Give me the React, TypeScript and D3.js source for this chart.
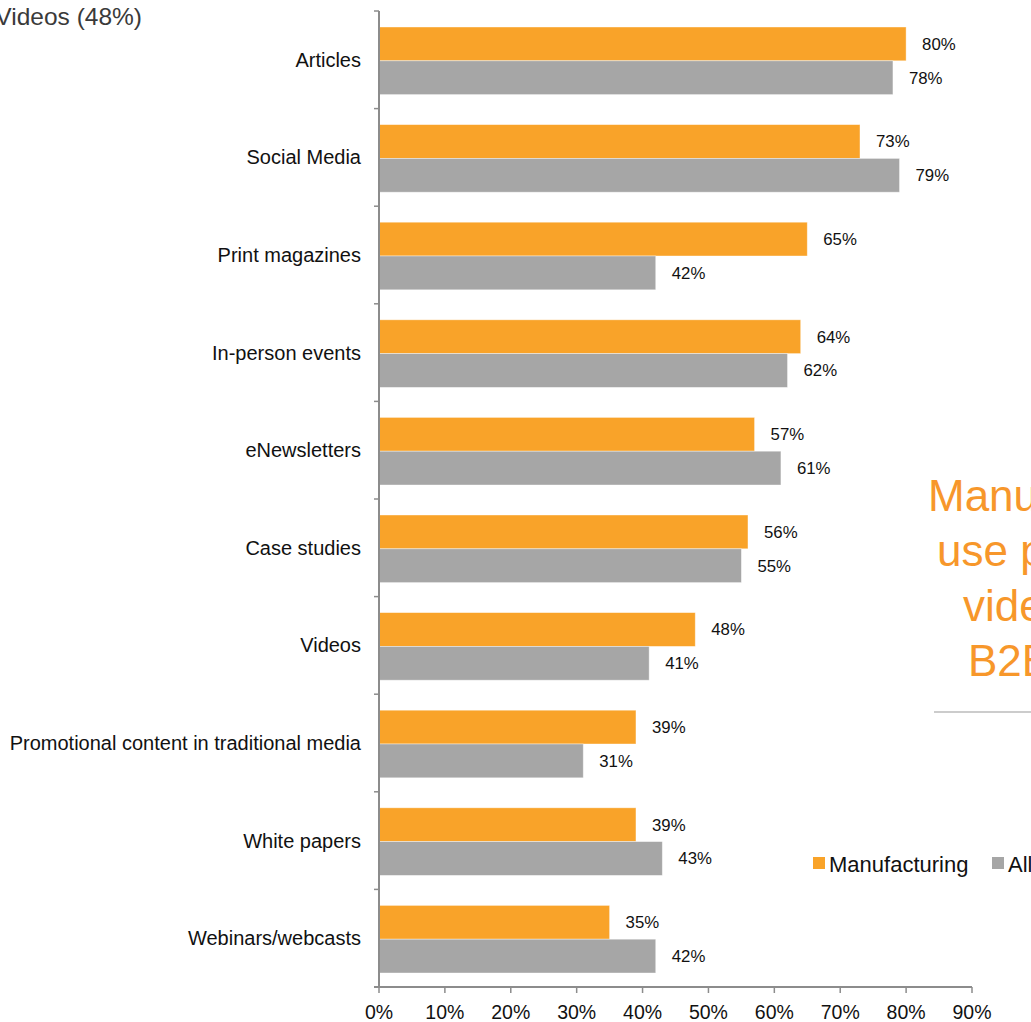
import * as d3 from "d3";

const categories = [
  "Articles",
  "Social Media",
  "Print magazines",
  "In-person events",
  "eNewsletters",
  "Case studies",
  "Videos",
  "Promotional content in traditional media",
  "White papers",
  "Webinars/webcasts",
];
const manufacturing = [80, 73, 65, 64, 57, 56, 48, 39, 39, 35];
const allB2B = [78, 79, 42, 62, 61, 55, 41, 31, 43, 42];
const xTicks = [0, 10, 20, 30, 40, 50, 60, 70, 80, 90];
const series = [
  { key: "Manufacturing", values: manufacturing, color: "#F9A329" },
  { key: "All", values: allB2B, color: "#A6A6A6" },
];
const calloutLines = ["Manufacturers", "use photos and", "video more than", "B2B overall"];

const W = 1031;
const H = 1022;
const FONT = "'Liberation Sans', Arial, sans-serif";

export default function App() {
  const x = d3.scaleLinear().domain([0, 90]).range([379, 972]);
  const y = d3.scaleBand().domain(categories).range([11, 987]);
  const inner = d3
    .scaleBand()
    .domain(series.map((s) => s.key))
    .range([16, y.bandwidth() - 14]);
  const axisColor = "#8c8c8c";

  return (
    <div style={{ position: "fixed", left: 0, top: 0 }}>
      <svg width={W} height={H} style={{ display: "block", fontFamily: FONT }}>
        <rect width={W} height={H} fill="#fff" />

        {/* clipped heading from the previous panel */}
        <text x={142} y={25} textAnchor="end" fontSize={24.5} fill="#3a3a3a">
          Videos (48%)
        </text>

        {/* bars */}
        {categories.map((c, i) => (
          <g key={c} transform={`translate(0,${y(c)})`}>
            {series.map((s) => (
              <g key={s.key}>
                <rect
                  x={x(0)}
                  y={inner(s.key)}
                  width={x(s.values[i]) - x(0)}
                  height={inner.bandwidth()}
                  fill={s.color}
                  stroke="#fff"
                  strokeOpacity={0.5}
                  strokeWidth={0.8}
                />
                <text
                  x={x(s.values[i]) + 16}
                  y={(inner(s.key) ?? 0) + inner.bandwidth() / 2}
                  dy="0.35em"
                  fontSize={16.8}
                  fill="#111"
                >
                  {s.values[i]}%
                </text>
              </g>
            ))}
            <text
              x={361}
              y={y.bandwidth() / 2}
              dy="0.35em"
              textAnchor="end"
              fontSize={20}
              fill="#111"
            >
              {c}
            </text>
          </g>
        ))}

        {/* y axis */}
        <line x1={x(0)} x2={x(0)} y1={11} y2={987} stroke={axisColor} strokeWidth={2} />
        {[...categories.map((c) => y(c) ?? 0), 987].map((v, i) => (
          <line key={i} x1={x(0) - 5} x2={x(0)} y1={v} y2={v} stroke={axisColor} strokeWidth={1.5} />
        ))}

        {/* x axis */}
        <line x1={x(0) - 5} x2={x(90)} y1={987} y2={987} stroke={axisColor} strokeWidth={2} />
        {xTicks.map((t) => (
          <g key={t}>
            <line x1={x(t)} x2={x(t)} y1={987} y2={993} stroke={axisColor} strokeWidth={1.5} />
            <text x={x(t)} y={1019} textAnchor="middle" fontSize={19.5} fill="#111">
              {t}%
            </text>
          </g>
        ))}

        {/* callout */}
        {calloutLines.map((l, i) => (
          <text
            key={l}
            x={[928, 937, 963, 968][i]}
            y={511 + i * 55}
            fontSize={44}
            fill="#F7972B"
          >
            {l}
          </text>
        ))}
        <line x1={934} x2={W} y1={712} y2={712} stroke="#999" strokeWidth={1.2} />

        {/* legend */}
        {series.map((s, i) => (
          <g key={s.key} transform={`translate(${[813, 992][i]},857)`}>
            <rect width={12} height={12} fill={s.color} />
            <text x={16} y={14.5} fontSize={22} fill="#111">
              {s.key}
            </text>
          </g>
        ))}
      </svg>
    </div>
  );
}
